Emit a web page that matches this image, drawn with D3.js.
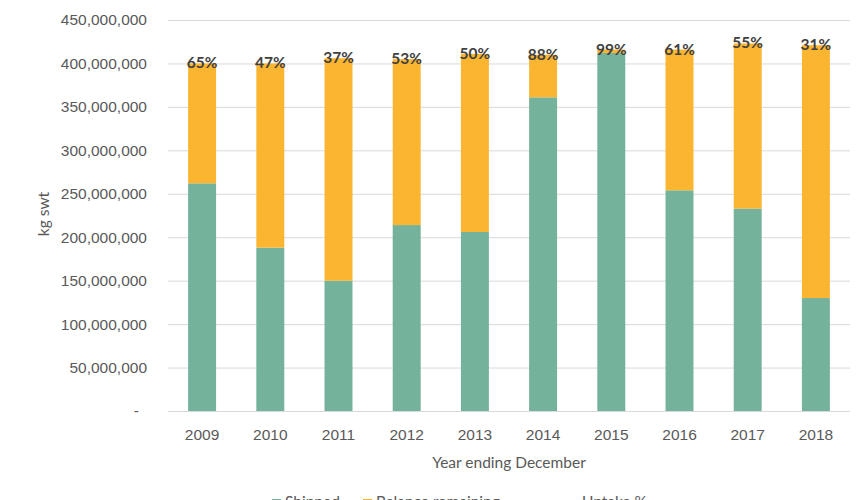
<!DOCTYPE html>
<html>
<head>
<meta charset="utf-8">
<script src="https://cdn.jsdelivr.net/npm/d3@7"></script>
<style>
  body { margin: 0; background: #fff; }
  svg { display: block; font-family: Lato, "Open Sans", sans-serif; }
</style>
</head>
<body>
<svg id="chart" width="860" height="500"></svg>
<script>
// values (kg swt)
const years = ["2009", "2010", "2011", "2012", "2013", "2014", "2015", "2016", "2017", "2018"];
const shipped = [262e6, 188e6, 150e6, 214e6, 206e6, 361e6, 412e6, 254e6, 233e6, 130e6];
const balance = [138e6, 212e6, 256e6, 191e6, 205e6, 49e6, 4e6, 162e6, 190e6, 291e6];
const uptake = [65, 47, 37, 53, 50, 88, 99, 61, 55, 31];
const yTicks = [0, 50e6, 100e6, 150e6, 200e6, 250e6, 300e6, 350e6, 400e6, 450e6];

const legendItems = [
    {key: "shipped", label: "Shipped"},
    {key: "balance", label: "Balance remaining"},
    {key: "uptake", label: "Uptake %"}
];

const colors = {shipped: "#74b29b", balance: "#fbb531", uptake: "none"};

const margins = {top: 20, right: 10, bottom: 89, left: 168};
const svg = d3.select("#chart");
const width = +svg.attr("width");
const height = +svg.attr("height");

const rows = years.map((y, i) => ({year: y, shipped: shipped[i], balance: balance[i], uptake: uptake[i]}));

const x = d3.scaleBand().domain(years).range([margins.left, width - margins.right]).paddingInner(0.59).paddingOuter(0.295);
const y = d3.scaleLinear().domain([0, 450e6]).range([height - margins.bottom, margins.top]);

// grid + y axis labels
const yAxis = svg.append("g")
    .attr("transform", `translate(${margins.left},0)`)
    .call(d3.axisLeft(y).tickValues(yTicks)
        .tickSize(-(width - margins.left - margins.right))
        .tickPadding(21)
        .tickFormat(d => d === 0 ? "-" : d3.format(",")(d)));
yAxis.select(".domain").remove();
yAxis.selectAll(".tick line").attr("stroke", "#d9d9d9").attr("stroke-width", 1);
yAxis.selectAll(".tick text")
    .attr("fill", "#595959")
    .style("font-size", "15.5px")
    .attr("dx", d => d === 0 ? -8 : 0);

// stacked bars
const stacked = d3.stack().keys(["shipped", "balance"])(rows);
svg.append("g").selectAll("g.series")
    .data(stacked)
    .join("g")
    .attr("class", "series")
    .attr("fill", s => colors[s.key])
    .selectAll("rect")
    .data(s => s)
    .join("rect")
    .attr("x", d => x(d.data.year))
    .attr("width", x.bandwidth())
    .attr("y", d => y(d[1]))
    .attr("height", d => y(d[0]) - y(d[1]));

// uptake labels at the top of each bar
svg.append("g").selectAll("text")
    .data(rows)
    .join("text")
    .attr("x", d => x(d.year) + x.bandwidth() / 2)
    .attr("y", d => y(d.shipped + d.balance) - 1)
    .attr("text-anchor", "middle")
    .attr("dominant-baseline", "central")
    .attr("fill", "#404040")
    .style("font-size", "15.5px")
    .style("font-weight", "bold")
    .text(d => `${d.uptake}%`);

// x axis labels
const xAxis = svg.append("g")
    .attr("transform", `translate(0,${height - margins.bottom})`)
    .call(d3.axisBottom(x).tickSize(0).tickPadding(18));
xAxis.select(".domain").remove();
xAxis.selectAll(".tick text").attr("fill", "#595959").style("font-size", "15.5px");

// axis titles
svg.append("text")
    .attr("x", (margins.left + width - margins.right) / 2)
    .attr("y", 462)
    .attr("text-anchor", "middle")
    .attr("dominant-baseline", "central")
    .attr("fill", "#595959")
    .style("font-size", "15.5px")
    .text("Year ending December");

svg.append("text")
    .attr("transform", "translate(43,214) rotate(-90)")
    .attr("text-anchor", "middle")
    .attr("dominant-baseline", "central")
    .attr("fill", "#595959")
    .style("font-size", "15.5px")
    .text("kg swt");

// legend (partly cut off at the bottom edge)
const legendX = d3.scaleOrdinal().domain(legendItems.map(l => l.key)).range([272, 363, 569]);
const legend = svg.append("g").selectAll("g")
    .data(legendItems)
    .join("g")
    .attr("transform", d => `translate(${legendX(d.key)},499)`);
legend.append("rect")
    .attr("width", 9).attr("height", 9)
    .attr("fill", d => colors[d.key]);
legend.append("text")
    .attr("x", d => d.key === "uptake" ? 13 : 13)
    .attr("y", 8)
    .attr("fill", "#595959")
    .style("font-size", "15.5px")
    .text(d => d.label);
</script>
</body>
</html>
